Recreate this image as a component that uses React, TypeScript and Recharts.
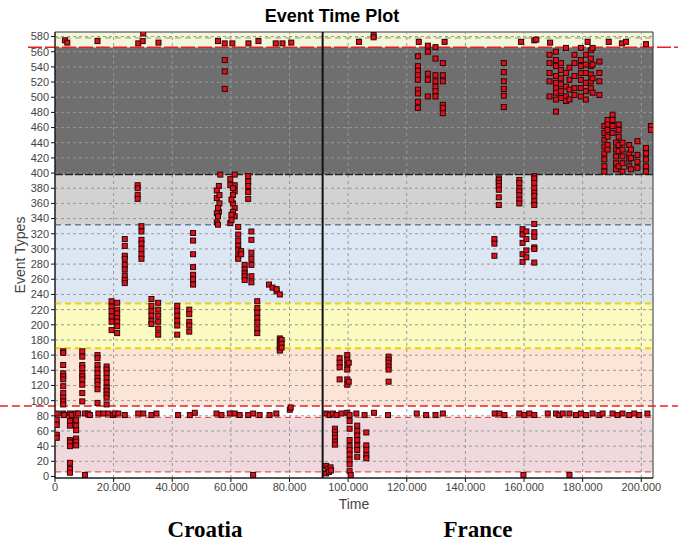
import React from "react"
import {
  Label,
  ReferenceArea,
  ReferenceLine,
  Scatter,
  ScatterChart,
  XAxis,
  YAxis,
} from "recharts"

// [time, event types seen at that time]
type Column = [number, number[]]

const croatiaUpper: Column[] = [
  [3400, [575]], [4200, [572]], [14500, [574]], [28400, [571]], [29900, [574]],
  [30100, [584]], [35300, [572]], [55600, [574]], [57900, [571, 549, 534, 511]],
  [60500, [571]], [66000, [571]], [69400, [574]], [75300, [571]], [77600, [571]],
  [80600, [572]],
]

const croatiaGray: Column[] = [
  [28200, [384, 380, 371, 366]],
  [56400, [398]], [55900, [383, 349]], [55200, [377, 367, 347, 335]],
  [56100, [371, 360]], [55600, [354, 343, 332]],
  [61300, [398, 384, 376, 354, 343]], [59800, [392, 384, 334]],
  [60700, [380, 371, 360, 349]], [60200, [365, 345, 338]],
  [65900, [396, 389, 383, 375, 366]],
]

const croatiaBlue: Column[] = [
  [23800, [313, 304, 291, 287, 279, 273, 265, 259, 255]],
  [29500, [330, 323, 312, 307, 300, 293, 287]],
  [47100, [321, 311, 293, 276, 266, 260, 253]],
  [62500, [329, 319, 311, 304, 299, 291, 287]], [63500, [297, 293]],
  [64700, [279, 273, 268, 264, 259]],
  [67000, [323, 312, 295, 287, 279, 264, 256]],
  [73000, [253]], [74200, [249]], [75600, [244, 247]], [76700, [240]],
]

const croatiaYellow: Column[] = [
  [19300, [231, 224, 218, 211, 204, 193]],
  [21200, [229, 220, 215, 209, 204, 198, 189]],
  [32900, [234, 225, 218, 212, 205, 201]],
  [35200, [229, 220, 212, 204, 195, 187]],
  [41700, [225, 218, 212, 205, 199, 187]],
  [45800, [220, 214, 204, 199, 191]],
  [69000, [231, 222, 216, 209, 203, 195, 189]],
  [76700, [182, 178, 173, 169, 166]], [77300, [180, 175, 170]],
]

const croatiaPeach: Column[] = [
  [2800, [165, 163, 147, 136, 132, 128, 119, 110, 104, 99, 95]],
  [9300, [165, 158, 147, 143, 136, 132, 128, 121, 110, 99]],
  [14500, [160, 156, 147, 141, 136, 130, 126, 121, 115, 97]],
  [17600, [145, 141, 136, 130, 124, 117, 113, 108, 104, 95]],
]

const croatiaMidRow: [number, number][] = [
  [600, 83], [2800, 83], [3100, 81], [5100, 83], [5700, 81], [7200, 83], [7900, 83],
  [10200, 83], [11300, 83], [11900, 81], [14800, 83], [16500, 83], [18200, 83],
  [19800, 81], [20400, 83], [21600, 83], [23800, 81], [28400, 83], [30100, 83],
  [32900, 81], [34600, 83], [42000, 81], [46000, 81], [47700, 84], [55100, 83],
  [56800, 81], [59600, 83], [61300, 83], [63000, 81], [65900, 81], [67600, 83],
  [69800, 81], [73200, 81], [75500, 83], [80100, 88], [80400, 91],
]

const croatiaPink: Column[] = [
  [600, [75, 68, 55, 51]],
  [5100, [73, 67, 48, 45, 40, 18, 10, 5]],
  [7200, [74, 67, 61, 50, 46, 41]],
  [10200, [2]], [67600, [2]],
]

const franceUpper: Column[] = [
  [103700, [573]], [108700, [582, 579]], [124100, [573]], [132900, [573]],
  [159000, [573]], [163500, [575]], [164200, [576]], [168900, [572]],
  [181700, [573]], [188900, [573]], [193400, [571]], [194800, [573]], [201600, [570]],
]

const franceDark: Column[] = [
  [123800, [554, 541, 535, 529, 523, 510, 505, 494, 486]],
  [127200, [568, 560, 531, 523, 501]],
  [129800, [566, 551, 529, 521, 514, 508, 501]],
  [132300, [545, 529, 521, 490, 486, 479]],
  [153100, [545, 533, 521, 511, 502, 487]],
  [168700, [556, 545, 532, 521, 501]],
  [170900, [560, 549, 541, 528, 519, 512, 506, 497, 481]],
  [172600, [545, 536, 525, 517, 508, 499]],
  [174300, [565, 532, 514, 501, 495]],
  [175500, [539, 523, 510, 497]],
  [177200, [556, 545, 528, 512, 503]],
  [179400, [565, 549, 541, 532, 523, 512, 501]],
  [181100, [556, 543, 532, 519, 508, 497]],
  [182800, [562, 551, 541, 530, 521, 512]],
  [183400, [565, 543, 525, 506]],
  [185700, [547, 532, 521, 503]],
  [187400, [462, 453, 444, 435, 426, 418, 409, 402]],
  [188500, [470, 464, 457, 448, 437, 431]],
  [190200, [477, 470, 462, 453]],
  [191400, [440, 431, 422, 413, 405]],
  [192300, [464, 457, 448, 437, 429, 409]],
  [193600, [440, 431, 422, 413, 402]],
  [195900, [437, 426, 418, 409]],
  [196500, [431, 420, 405]],
  [198700, [442, 424, 415, 407]],
  [201600, [433, 426, 418, 409, 402]],
  [203300, [462, 457]],
]

const franceGray: Column[] = [
  [151400, [393, 391, 387, 383, 378, 368, 358]],
  [158400, [391, 387, 380, 376, 371, 365, 360]],
  [163500, [396, 393, 387, 380, 374, 370, 363, 358]],
]

const franceBlue: Column[] = [
  [149900, [313, 307, 291]],
  [159500, [326, 319, 308, 293, 283]],
  [160800, [323, 313, 298, 289]],
  [163500, [333, 322, 316, 302, 300, 282]],
]

const francePeach: Column[] = [
  [97100, [156, 150, 144, 128]],
  [99700, [160, 154, 147, 141, 128, 121]],
  [100200, [150, 125]],
  [113800, [158, 154, 150, 145, 141, 125]],
]

const franceMidRow: [number, number][] = [
  [92600, 83], [93700, 81], [94800, 83], [96000, 81], [97700, 83], [99700, 84],
  [100500, 81], [102800, 83], [105600, 81], [108800, 84], [113600, 81], [123400, 83],
  [126600, 81], [129800, 81], [132300, 83], [150000, 83], [151600, 83], [153300, 81],
  [158400, 83], [160100, 81], [161800, 83], [163500, 81], [168100, 83], [170900, 83],
  [172100, 81], [173200, 83], [175500, 83], [177700, 81], [179400, 83], [181100, 81],
  [183400, 83], [185700, 81], [186800, 83], [190200, 83], [191900, 81], [193600, 83],
  [195900, 81], [197600, 83], [199300, 81], [202100, 83],
]

const francePink: Column[] = [
  [92500, [14, 4]], [93000, [10]], [93500, [6]], [94000, [12]], [94200, [8]],
  [95500, [63, 59, 55, 51, 46, 42]],
  [100500, [73, 63, 48, 40, 35, 29, 22, 16, 7]],
  [103100, [67, 60, 54, 48, 41, 35, 26]],
  [106200, [58, 41, 35, 28, 24]],
  [100900, [2]], [159800, [2]], [175500, [2]],
]

// event type bands (lower, upper) and their fills
const bandEdges = [-2, 6, 78, 93, 169, 228, 332, 398, 566, 586]
const bandFills = [
  "#ffffff", "#f0d9dc", "#ffffff", "#fce5d6", "#fbfbc0",
  "#dde7f4", "#d2d2d2", "#6f6f6f", "#f2f6dc",
]

const splitTime = 91300

const yTicks = [
  0, 20, 40, 60, 80, 100, 120, 140, 160, 180, 200, 220, 240, 260, 280,
  300, 320, 340, 360, 380, 400, 420, 440, 460, 480, 500, 520, 540, 560, 580,
]
const xTicks = [
  0, 20000, 40000, 60000, 80000, 100000, 120000, 140000, 160000, 180000, 200000,
]

function flatten(columns: Column[], rows: [number, number][] = []) {
  const pts = columns.flatMap(([time, events]) =>
    events.map((event) => ({ time, event }))
  )
  return pts.concat(rows.map(([time, event]) => ({ time, event })))
}

const croatiaData = flatten(
  [
    ...croatiaUpper, ...croatiaGray, ...croatiaBlue,
    ...croatiaYellow, ...croatiaPeach, ...croatiaPink,
  ],
  croatiaMidRow
)
const franceData = flatten(
  [
    ...franceUpper, ...franceDark, ...franceGray,
    ...franceBlue, ...francePeach, ...francePink,
  ],
  franceMidRow
)

const formatTime = (v: number) =>
  v === 0 ? "0" : `${Math.round(v / 1000)}.000`

const Marker = (props: any) => (
  <rect
    x={props.cx - 2.5}
    y={props.cy - 2.5}
    width={5}
    height={5}
    fill="#e2101c"
    stroke="#2a0505"
    strokeWidth={1}
  />
)

const tickStyle = { fontSize: 11, fill: "#444", fontFamily: "Liberation Sans, Arial" }
const gridStroke = "#999999"

export default function App() {
  return (
    <div
      style={{
        position: "absolute",
        left: 0,
        top: 0,
        width: 678,
        height: 544,
        background: "#fff",
        fontFamily: "Liberation Sans, Arial, sans-serif",
      }}
    >
      <div
        style={{
          position: "absolute",
          left: 232,
          width: 200,
          top: 6,
          textAlign: "center",
          fontWeight: "bold",
          fontSize: 18,
        }}
      >
        Event Time Plot
      </div>
      <ScatterChart
        width={678}
        height={544}
        margin={{ top: 32, right: 25, bottom: 36, left: 20 }}
      >
        {bandFills.map((fill, i) => (
          <ReferenceArea
            key={"band" + i}
            x1={0}
            x2={204000}
            y1={bandEdges[i]}
            y2={bandEdges[i + 1]}
            fill={fill}
            fillOpacity={1}
            stroke="none"
          />
        ))}
        {/* grid drawn over the bands */}
        {yTicks.slice(1).map((t) => (
          <ReferenceLine
            key={"gy" + t}
            y={t}
            stroke={gridStroke}
            strokeDasharray="3 3"
          />
        ))}
        {xTicks.slice(1).map((t) => (
          <ReferenceLine
            key={"gx" + t}
            x={t}
            stroke={gridStroke}
            strokeDasharray="3 3"
          />
        ))}
        <XAxis
          type="number"
          dataKey="time"
          domain={[0, 204000]}
          allowDataOverflow
          ticks={xTicks}
          tickFormatter={formatTime}
          tick={tickStyle}
          tickSize={4}
          tickMargin={1}
          stroke="#111"
          height={30}
        >
          <Label
            value="Time"
            position="insideBottom"
            offset={-1}
            style={{ fontSize: 14, fill: "#444", fontFamily: "Liberation Sans, Arial" }}
          />
        </XAxis>
        <YAxis
          type="number"
          dataKey="event"
          domain={[-2, 586]}
          allowDataOverflow
          ticks={yTicks}
          interval={0}
          tick={tickStyle}
          tickSize={4}
          tickMargin={2}
          stroke="#111"
          width={35}
        >
          <Label
            value="Event Types"
            angle={-90}
            position="insideLeft"
            offset={0}
            style={{
              fontSize: 14,
              fill: "#444",
              fontFamily: "Liberation Sans, Arial",
              textAnchor: "middle",
            }}
          />
        </YAxis>
        <ReferenceLine y={6} stroke="#e23030" strokeDasharray="6 4" />
        <ReferenceLine y={78} stroke="#e23030" strokeDasharray="6 4" />
        <ReferenceLine
          segment={[{ x: -18800, y: 93 }, { x: 212500, y: 93 }]}
          ifOverflow="visible"
          stroke="#e82020"
          strokeWidth={1.5}
          strokeDasharray="8 4"
        />
        <ReferenceLine y={169} stroke="#e8d400" strokeWidth={2} strokeDasharray="6 4" />
        <ReferenceLine y={228} stroke="#e8d400" strokeWidth={2} strokeDasharray="6 4" />
        <ReferenceLine y={332} stroke="#6b7d9c" strokeWidth={1.5} strokeDasharray="6 4" />
        <ReferenceLine y={398} stroke="#222" strokeWidth={1.5} strokeDasharray="8 2" />
        <ReferenceLine y={578} stroke="#b8bd70" strokeWidth={1.5} strokeDasharray="6 4" />
        <ReferenceLine
          segment={[{ x: -9200, y: 566 }, { x: 212500, y: 566 }]}
          ifOverflow="visible"
          stroke="#e82020"
          strokeWidth={1.5}
          strokeDasharray="14 3"
        />
        <ReferenceArea
          x1={0}
          x2={204000}
          y1={-2}
          y2={586}
          fill="none"
          stroke="#333"
          strokeWidth={1}
        />
        <ReferenceLine x={splitTime} stroke="#111" strokeWidth={2} />
        <Scatter
          name="Croatia"
          data={croatiaData}
          shape={Marker}
          isAnimationActive={false}
        />
        <Scatter
          name="France"
          data={franceData}
          shape={Marker}
          isAnimationActive={false}
        />
      </ScatterChart>
      <div
        style={{
          position: "absolute",
          left: 105,
          width: 200,
          top: 517,
          textAlign: "center",
          fontWeight: "bold",
          fontSize: 23,
          fontFamily: "Liberation Serif, Times New Roman, serif",
        }}
      >
        Croatia
      </div>
      <div
        style={{
          position: "absolute",
          left: 378,
          width: 200,
          top: 517,
          textAlign: "center",
          fontWeight: "bold",
          fontSize: 23,
          fontFamily: "Liberation Serif, Times New Roman, serif",
        }}
      >
        France
      </div>
    </div>
  )
}
